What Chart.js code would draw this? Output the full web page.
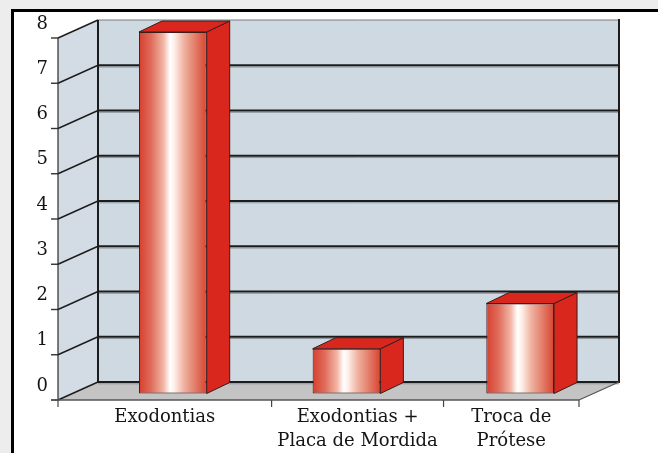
<!DOCTYPE html>
<html>
<head>
<meta charset="utf-8">
<script src="https://cdn.jsdelivr.net/npm/chart.js@4"></script>
<style>
  html, body { margin: 0; padding: 0; width: 658px; height: 453px; overflow: hidden; background: #ededed; }
  #frame { position: absolute; left: 11px; top: 9px; width: 700px; height: 500px;
           border-left: 3px solid #000; border-top: 3px solid #000; background: #fff; }
  canvas { position: absolute; left: 0; top: 0; }
</style>
</head>
<body>
<div id="frame"></div>
<canvas id="chart" width="658" height="453"></canvas>
<script>
// Data
const categories = ['Exodontias', ['Exodontias +', 'Placa de Mordida'], ['Troca de', 'Prótese']];
const counts = [8, 1, 2];
const yTicks = [0, 1, 2, 3, 4, 5, 6, 7, 8];

// Layout of the pseudo-3D box (pixels, relative to the plane of the bar faces)
const PLOT = { left: 86, right: 607, top: 32, bottom: 394, width: 658, height: 453 };
const FRONT = { dx: -28, dy: 6 };    // front edge of floor / side wall
const BACK = { dx: 12, dy: -12 };    // back wall plane
const DEPTH = { dx: 23, dy: -11 };   // bar depth
const BAR_FRAC = 0.39;
// category separators along the floor's front edge (fraction of its length)
const SEPARATORS = [0, 0.41, 0.74, 1];
const LABEL_POS = SEPARATORS.slice(1).map((s, i) => (s + SEPARATORS[i]) / 2);

const FONT = { family: 'DejaVu Serif', size: 18 };
const INK = '#151515';
const WALL = '#cfd9e1';
const FLOOR = '#c4c4c4';
const RED = '#d9271d';
const EDGE = '#3a1d1d';

const plotW = PLOT.right - PLOT.left;
// the label axis is expressed as a fraction of the floor's front edge
const labelMin = -FRONT.dx / plotW;

function poly(ctx, pts, fill, stroke, lw) {
  ctx.beginPath();
  ctx.moveTo(pts[0][0], pts[0][1]);
  for (let i = 1; i < pts.length; i++) ctx.lineTo(pts[i][0], pts[i][1]);
  ctx.closePath();
  if (fill) { ctx.fillStyle = fill; ctx.fill(); }
  if (stroke) { ctx.strokeStyle = stroke; ctx.lineWidth = lw || 1; ctx.stroke(); }
}
function line(ctx, x1, y1, x2, y2, color, lw) {
  ctx.beginPath();
  ctx.moveTo(x1, y1);
  ctx.lineTo(x2, y2);
  ctx.strokeStyle = color;
  ctx.lineWidth = lw;
  ctx.stroke();
}

// Walls, floor, gridlines and axis ticks behind the bars
const box3d = {
  id: 'box3d',
  beforeDatasetsDraw(chart) {
    const ctx = chart.ctx;
    const ys = chart.scales.y;
    const lab = chart.scales.labels;
    const a = chart.chartArea;
    const fl = a.left + FRONT.dx, fr = a.right + FRONT.dx;
    const bl = a.left + BACK.dx, br = a.right + BACK.dx;
    const fy = v => ys.getPixelForValue(v) + FRONT.dy;
    const by = v => ys.getPixelForValue(v) + BACK.dy;
    const vMin = yTicks[0], vMax = yTicks[yTicks.length - 1];
    ctx.save();
    // back wall
    poly(ctx, [[bl, by(vMax)], [br, by(vMax)], [br, by(vMin)], [bl, by(vMin)]], WALL);
    // side wall
    poly(ctx, [[fl, fy(vMin)], [fl, fy(vMax)], [bl, by(vMax)], [bl, by(vMin)]], '#d3dce4');
    // floor
    poly(ctx, [[fl, fy(vMin)], [fr, fy(vMin)], [br, by(vMin)], [bl, by(vMin)]], FLOOR);
    // gridlines
    yTicks.forEach(v => {
      if (v !== vMax) {
        line(ctx, bl, by(v) + 1.8, br, by(v) + 1.8, '#8d969d', 1);
      }
      line(ctx, bl, by(v), br, by(v), v === vMax ? '#7a7a7a' : '#1c1c1c', v === vMax ? 1 : 2);
      line(ctx, fl, fy(v), bl, by(v), '#1c1c1c', 1.4);
      line(ctx, fl - 7, fy(v), fl, fy(v), '#333', 1.4);
    });
    // wall edges
    line(ctx, bl, by(vMax), bl, by(vMin), '#1c1c1c', 2);
    line(ctx, br, by(vMax) - 1, br, by(vMin) + 1, '#1c1c1c', 2);
    line(ctx, fl, fy(vMax), fl, fy(vMin), '#2a2a2a', 1.2);
    // floor edges
    line(ctx, fl - 7, fy(vMin), fr, fy(vMin), '#555', 1.5);
    line(ctx, fr, fy(vMin), br, by(vMin), '#555', 1.2);
    // category separators
    SEPARATORS.forEach(s => {
      const x = lab.getPixelForValue(s);
      line(ctx, x, fy(vMin), x, fy(vMin) + 7, '#444', 1.2);
    });
    ctx.restore();
  },
  afterDatasetsDraw(chart) {
    const ctx = chart.ctx;
    const meta = chart.getDatasetMeta(0);
    ctx.save();
    ctx.lineJoin = 'miter';
    meta.data.forEach(bar => {
      const { x, y, base, width } = bar.getProps(['x', 'y', 'base', 'width'], true);
      const l = x - width / 2, r = x + width / 2;
      poly(ctx, [[r, y], [r + DEPTH.dx, y + DEPTH.dy], [r + DEPTH.dx, base + DEPTH.dy], [r, base]], RED, EDGE, 1);
      poly(ctx, [[l, y], [l + DEPTH.dx, y + DEPTH.dy], [r + DEPTH.dx, y + DEPTH.dy], [r, y]], RED, EDGE, 1);
    });
    ctx.restore();
  }
};

// Cylinder-like shading across each bar face
function faceGradient(c) {
  const chart = c.chart;
  const xs = chart.scales.x;
  if (!xs || c.dataIndex == null || !chart.chartArea) return '#e48070';
  const cx = xs.getPixelForValue(c.dataIndex);
  const hw = xs.width / categories.length * BAR_FRAC / 2;
  const g = chart.ctx.createLinearGradient(cx - hw, 0, cx + hw, 0);
  g.addColorStop(0, '#d63f30');
  g.addColorStop(0.18, '#e06c5b');
  g.addColorStop(0.36, '#f2b5a5');
  g.addColorStop(0.46, '#ffffff');
  g.addColorStop(0.52, '#fdf0ea');
  g.addColorStop(0.66, '#f0b3a2');
  g.addColorStop(0.84, '#e27a66');
  g.addColorStop(1, '#d8432f');
  return g;
}

new Chart(document.getElementById('chart'), {
  type: 'bar',
  data: {
    labels: categories,
    datasets: [{
      data: counts,
      backgroundColor: faceGradient,
      borderColor: EDGE,
      borderWidth: 1,
      borderSkipped: false,
      categoryPercentage: 1,
      barPercentage: BAR_FRAC
    }]
  },
  options: {
    responsive: false,
    animation: false,
    devicePixelRatio: 1,
    layout: { padding: { left: 0, right: PLOT.width - PLOT.right, top: PLOT.top, bottom: 0 } },
    plugins: { legend: { display: false }, tooltip: { enabled: false } },
    scales: {
      x: { type: 'category', display: false, offset: true },
      y: {
        min: yTicks[0], max: yTicks[yTicks.length - 1],
        grid: { display: true, drawOnChartArea: false, drawTicks: true, tickLength: 38, color: 'rgba(0,0,0,0)' },
        border: { display: false },
        ticks: { stepSize: 1, font: FONT, color: INK, padding: 0, labelOffset: -8 },
        afterFit(s) { s.width = PLOT.left; }
      },
      labels: {
        type: 'linear', position: 'bottom', offset: false,
        min: labelMin, max: labelMin + 1,
        grid: { display: false }, border: { display: false },
        afterBuildTicks(s) { s.ticks = LABEL_POS.map(v => ({ value: v })); },
        ticks: {
          autoSkip: false, maxRotation: 0, font: { ...FONT, lineHeight: 1.3 }, color: INK, padding: 4,
          callback: (v, i) => categories[i]
        },
        afterFit(s) { s.height = PLOT.height - PLOT.bottom; }
      }
    }
  },
  plugins: [box3d]
});
</script>
</body>
</html>
